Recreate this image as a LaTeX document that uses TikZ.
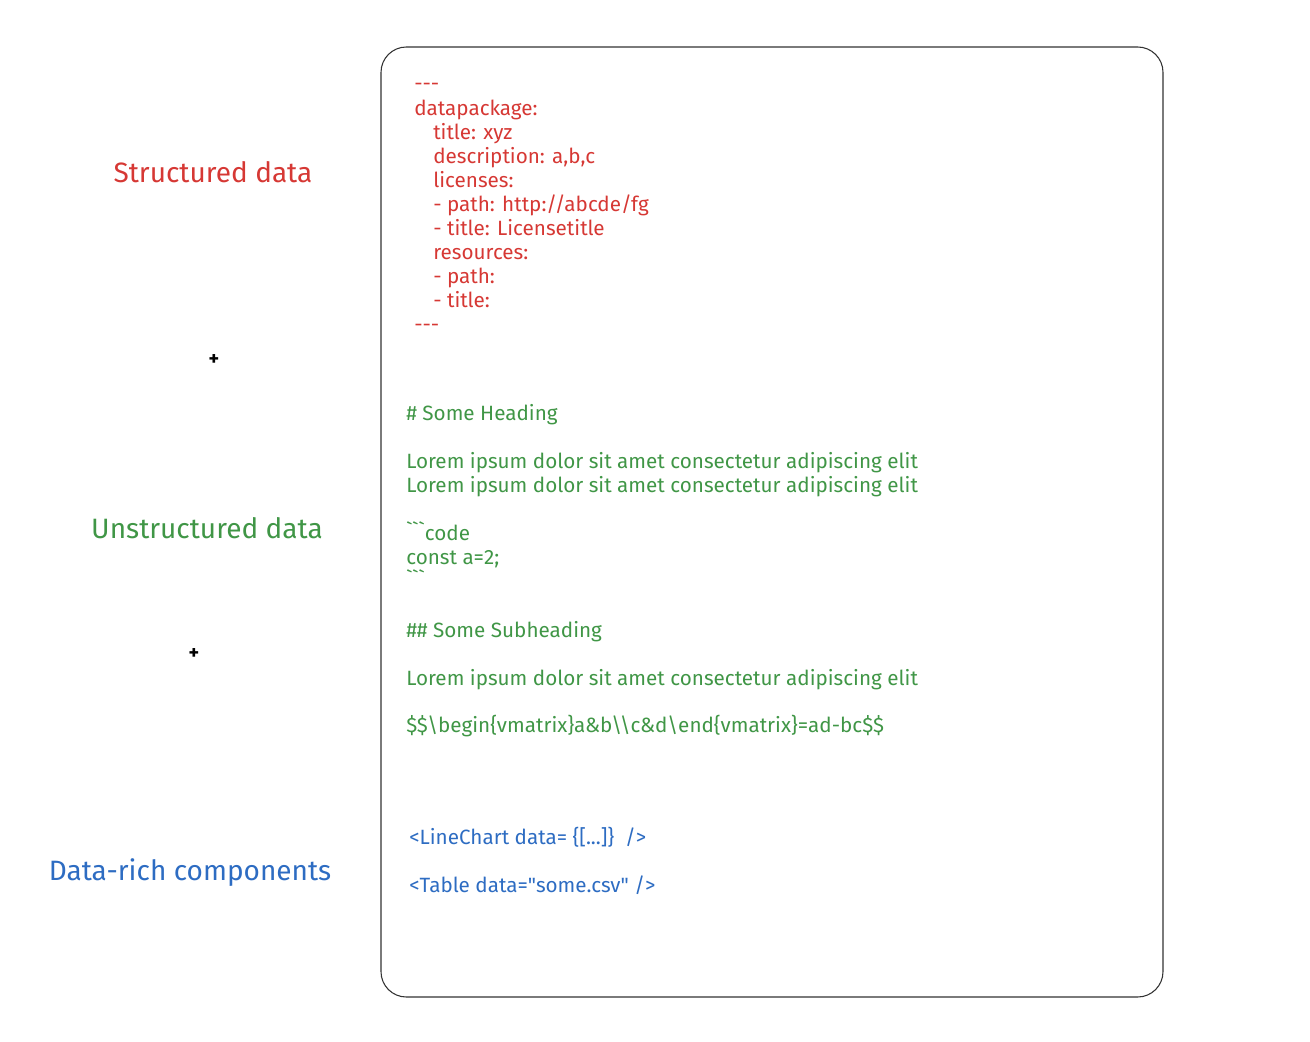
\documentclass[tikz,border=0pt]{standalone}
\usepackage{fontspec}
\newfontfamily\hand{Fira Sans}[Ligatures=TeXOff]
\definecolor{sketchred}{RGB}{214,56,52}
\definecolor{sketchgreen}{RGB}{64,150,70}
\definecolor{sketchblue}{RGB}{45,108,194}

\begin{document}
\begin{tikzpicture}[x=0.75pt, y=-0.75pt,
  every node/.style={inner sep=0pt, font=\hand},
  codeline/.style={anchor=base west, font=\hand\fontsize{15.5}{15.5}\selectfont},
  sidelabel/.style={font=\hand\fontsize{21}{21}\selectfont},
  plus/.style={font=\hand\bfseries\fontsize{15}{15}\selectfont}]
  \useasboundingbox (0,0) rectangle (1310,1042);

  % the page
  \draw[black!80, line width=0.8pt, rounded corners=19pt] (381,47) rectangle (1163,997);

  % front matter
  \foreach \x/\y/\txt [count=\i] in {414/84/{---}, 414/109/{datapackage:},
      433/133/{title: xyz}, 433/157/{description: a,b,c}, 433/181/{licenses:},
      433/205/{- path: http://abcde/fg}, 433/229/{- title: Licensetitle},
      433/253/{resources:}, 433/277/{- path:}, 433/301/{- title:}, 414/325/{---}}
    \node[codeline, sketchred] (yaml\i) at (\x,\y+6) {\txt};

  % markdown body
  \foreach \y/\txt [count=\i] in {414/{\# Some Heading},
      462/{Lorem ipsum dolor sit amet consectetur adipiscing elit},
      486/{Lorem ipsum dolor sit amet consectetur adipiscing elit},
      534/{```code}, 558/{const a=2;}, 582/{```},
      631/{\#\# Some Subheading},
      679/{Lorem ipsum dolor sit amet consectetur adipiscing elit},
      726/{\$\$\textbackslash begin\{vmatrix\}a\&b\textbackslash\textbackslash c\&d\textbackslash end\{vmatrix\}=ad-bc\$\$}}
    \node[codeline, sketchgreen] (md\i) at (406,\y+6) {\txt};

  % components
  \node[codeline, sketchblue] (chart) at (409,844) {<LineChart data= \{[...]\}\ \ />};
  \node[codeline, sketchblue] (table) at (409,892) {<Table data="some.csv" />};

  % side labels
  \node[sidelabel, sketchred] (structured) at (213,172) {Structured data};
  \node[plus] (plusa) at (214,360) {+};
  \node[sidelabel, sketchgreen] (unstructured) at (207,528) {Unstructured data};
  \node[plus] (plusb) at (194,654) {+};
  \node[sidelabel, sketchblue] (components) at (190,873) {Data-rich components};
\end{tikzpicture}
\end{document}
